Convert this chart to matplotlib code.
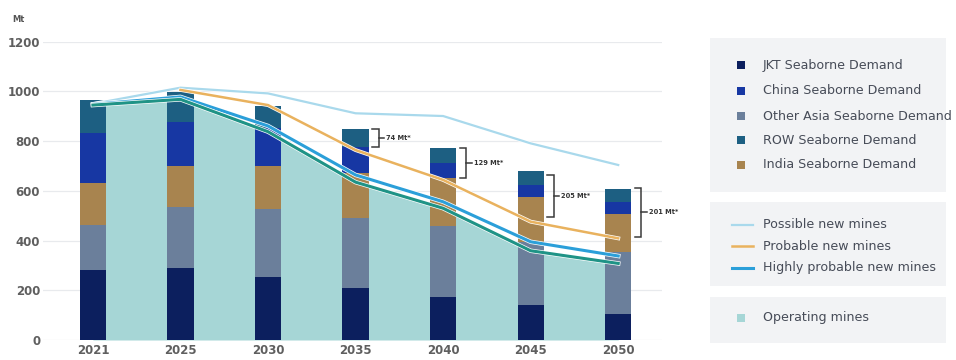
import matplotlib
matplotlib.use("Agg")
import matplotlib.pyplot as plt
import numpy as np
from matplotlib.patches import Rectangle
from matplotlib.lines import Line2D
import matplotlib.patheffects as pe

plt.rcParams['font.family'] = ['DejaVu Sans']

# ---------------- data ----------------
years = ["2021", "2025", "2030", "2035", "2040", "2045", "2050"]
jkt = [282, 291, 255, 208, 174, 141, 105]
other_asia = [179, 243, 272, 282, 285, 254, 250]
india = [169, 166, 173, 180, 191, 179, 152]
china = [201, 178, 151, 108, 61, 49, 49]
row = [134, 121, 90, 69, 60, 57, 51]
operating = [945, 968, 838, 635, 530, 359, 308]
highly_probable = [948, 978, 861, 664, 556, 395, 338]
probable = [np.nan, 1006, 945, 764, 644, 476, 409]
possible = [950, 1015, 992, 912, 901, 791, 704]
gap_years = ["2035", "2040", "2045", "2050"]
gap_top = [847, 771, 664, 610]
gap_bottom = [778, 650, 494, 416]
gap_labels = ["74 Mt*", "129 Mt*", "205 Mt*", "201 Mt*"]
yticks = [0, 200, 400, 600, 800, 1000, 1200]

# ---------------- colours ----------------
c_jkt = "#0c1f5e"
c_china = "#1737a3"
c_oasia = "#6b7f9b"
c_row = "#1d5f82"
c_india = "#a8844f"
c_oper = "#a6d6d6"
c_oper_line = "#1f9386"
c_possible = "#a9d9ec"
c_probable = "#e9b25e"
c_high = "#2b9fd9"

W, H = 956, 360
fig = plt.figure(figsize=(W / 100, H / 100), dpi=100)
ax = fig.add_axes([43 / W, 20 / H, (662 - 43) / W, (340 - 41.7) / H])

x = np.arange(len(years))
bw = 0.3

ax.fill_between(x, 0, operating, color=c_oper, lw=0, zorder=1)

bottom = np.zeros(len(years))
for vals, col, lab in [(jkt, c_jkt, "JKT Seaborne Demand"),
                       (other_asia, c_oasia, "Other Asia Seaborne Demand"),
                       (india, c_india, "India Seaborne Demand"),
                       (china, c_china, "China Seaborne Demand"),
                       (row, c_row, "ROW Seaborne Demand")]:
    ax.bar(x, vals, bw, bottom=bottom, color=col, lw=0, zorder=2, label=lab)
    bottom += np.array(vals)

def stroke(lw):
    return [pe.Stroke(linewidth=lw + 1.0, foreground="white"), pe.Normal()]

ax.plot(x, possible, color=c_possible, lw=1.6, zorder=3, path_effects=stroke(1.6))
ax.plot(x, probable, color=c_probable, lw=1.8, zorder=3.2, path_effects=stroke(1.8))
ax.plot(x, highly_probable, color=c_high, lw=2.2, zorder=3.4, path_effects=stroke(2.2))
ax.plot(x, operating, color=c_oper_line, lw=2.2, zorder=3.6, path_effects=stroke(2.2))

# brackets
for yr, top, bot, lab in zip(gap_years, gap_top, gap_bottom, gap_labels):
    i = years.index(yr)
    x0, x1 = i + 0.19, i + 0.265
    mid = (top + bot) / 2
    ax.plot([x0, x1, x1, x0], [top, top, bot, bot], color="#3a3a3a", lw=1.1,
            zorder=5, solid_joinstyle="miter", clip_on=False)
    ax.plot([x1, x1 + 0.06], [mid, mid], color="#3a3a3a", lw=1.1, zorder=5, clip_on=False)
    ax.text(x1 + 0.085, mid, lab, fontsize=4.8, color="#333333", va="center",
            ha="left", fontweight="bold", zorder=5)

ax.set_xlim(-0.57, 6.5)
ax.set_ylim(0, 1200)
ax.set_yticks(yticks)
ax.set_yticklabels([str(v) for v in yticks])
ax.set_xticks(x)
ax.set_xticklabels(years)
ax.grid(axis="y", color="#e8eaed", lw=0.9, zorder=0)
ax.set_axisbelow(True)
for s in ax.spines.values():
    s.set_visible(False)
ax.tick_params(axis="both", length=0, labelsize=8.5, colors="#555555")
ax.tick_params(axis="y", pad=2)
ax.tick_params(axis="x", pad=3)
for t in ax.get_xticklabels() + ax.get_yticklabels():
    t.set_fontweight("bold")
    t.set_color("#5f5f5f")

fig.text(12 / W, 1 - 19 / H, "Mt", fontsize=6, color="#555555", va="center",
         ha="left", fontweight="bold")

# ---------------- legend panel ----------------
lax = fig.add_axes([0, 0, 1, 1], zorder=-1)
lax.set_xlim(0, W)
lax.set_ylim(H, 0)
lax.axis("off")
box_col = "#f2f3f5"
for (y0, y1) in [(38, 192), (202, 286), (297, 343)]:
    lax.add_patch(Rectangle((710, y0), 236, y1 - y0, facecolor=box_col, edgecolor="none"))

txt_col = "#474c58"
fs = 9.1
sq_items = [(65, c_jkt, "JKT Seaborne Demand"),
            (91, c_china, "China Seaborne Demand"),
            (116, c_oasia, "Other Asia Seaborne Demand"),
            (140, c_row, "ROW Seaborne Demand"),
            (165, c_india, "India Seaborne Demand")]
for yy, col, lab in sq_items:
    lax.add_patch(Rectangle((737, yy - 4), 8, 8, facecolor=col, edgecolor="none"))
    lax.text(763, yy, lab, fontsize=fs, color=txt_col, va="center", ha="left")

ln_items = [(225, c_possible, 1.6, "Possible new mines"),
            (246, c_probable, 1.8, "Probable new mines"),
            (268, c_high, 2.2, "Highly probable new mines")]
for yy, col, lw, lab in ln_items:
    lax.add_line(Line2D([732, 753], [yy, yy], color=col, lw=lw))
    lax.text(763, yy, lab, fontsize=fs, color=txt_col, va="center", ha="left")

lax.add_patch(Rectangle((737, 314), 8, 8, facecolor=c_oper, edgecolor="none"))
lax.text(763, 318, "Operating mines", fontsize=fs, color=txt_col, va="center", ha="left")

fig.savefig("out.png", dpi=100)
